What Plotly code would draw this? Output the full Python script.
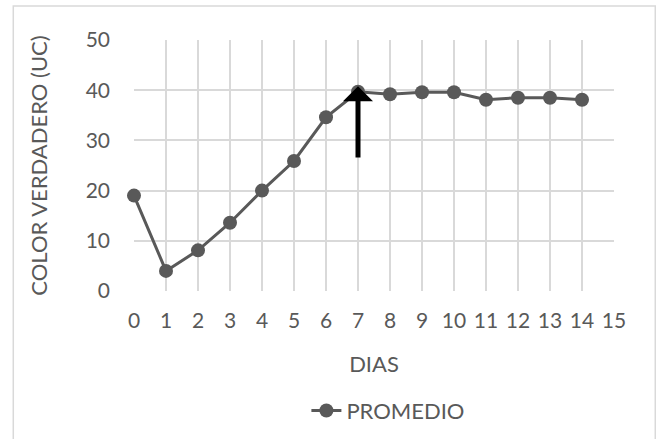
import plotly.graph_objects as go

# Color verdadero promedio por día
dias = [0, 1, 2, 3, 4, 5, 6, 7, 8, 9, 10, 11, 12, 13, 14]
promedio = [19, 4, 8.1, 13.6, 20, 25.9, 34.6, 39.7, 39.2, 39.6, 39.6, 38.1, 38.5, 38.5, 38.1]

# flecha que señala el día 7
flecha_dia = 7
flecha_desde = 26.3
flecha_hasta = 40.8

x_ticks = list(range(0, 16))
y_ticks = [0, 10, 20, 30, 40, 50]

TXT = "#595959"
GRID = "#d9d9d9"
FONT = "Lato, Carlito, Calibri, sans-serif"

fig = go.Figure()
fig.add_trace(go.Scatter(
    x=dias, y=promedio, name="PROMEDIO",
    mode="lines+markers",
    line=dict(color="#595959", width=3),
    marker=dict(color="#595959", size=14),
    cliponaxis=False,
))

fig.add_annotation(
    x=flecha_dia, y=flecha_hasta, ax=flecha_dia, ay=flecha_desde,
    xref="x", yref="y", axref="x", ayref="y",
    text="", showarrow=True, arrowhead=1, arrowsize=1, arrowwidth=5,
    arrowcolor="black", standoff=0,
)

# borde exterior del gráfico
fig.add_shape(type="rect", xref="paper", yref="paper",
              x0=-0.2515, x1=1.086, y0=-0.62, y1=1.1356,
              line=dict(color=GRID, width=1.5), fillcolor="rgba(0,0,0,0)", layer="below")

fig.update_layout(
    width=656, height=439,
    margin=dict(l=133.7, r=42.3, t=40, b=148.3, autoexpand=False),
    paper_bgcolor="white", plot_bgcolor="white",
    font=dict(family=FONT, size=21, color=TXT),
    showlegend=True,
    legend=dict(orientation="h", x=0.53, xanchor="center", y=-0.477, yanchor="middle",
                font=dict(family=FONT, size=22, color=TXT)),
)
fig.update_xaxes(
    range=[0, 15], tickvals=x_ticks, ticktext=[str(v) for v in x_ticks],
    showgrid=True, gridcolor=GRID, gridwidth=1.5, zeroline=False,
    showline=False, ticks="", ticklabelstandoff=15,
    tickfont=dict(family=FONT, size=21, color=TXT),
    title=dict(text="DIAS", standoff=25, font=dict(family=FONT, size=22, color=TXT)),
    automargin=False,
)
fig.update_yaxes(
    range=[0, 50], tickvals=y_ticks,
    showgrid=True, gridcolor=GRID, gridwidth=1.5, zeroline=False,
    showline=False, ticks="", ticklabelstandoff=23,
    tickfont=dict(family=FONT, size=21, color=TXT),
    title=dict(text="COLOR VERDADERO (UC)", standoff=31, font=dict(family=FONT, size=22, color=TXT)),
    automargin=False,
)

fig.write_html("out.html")
